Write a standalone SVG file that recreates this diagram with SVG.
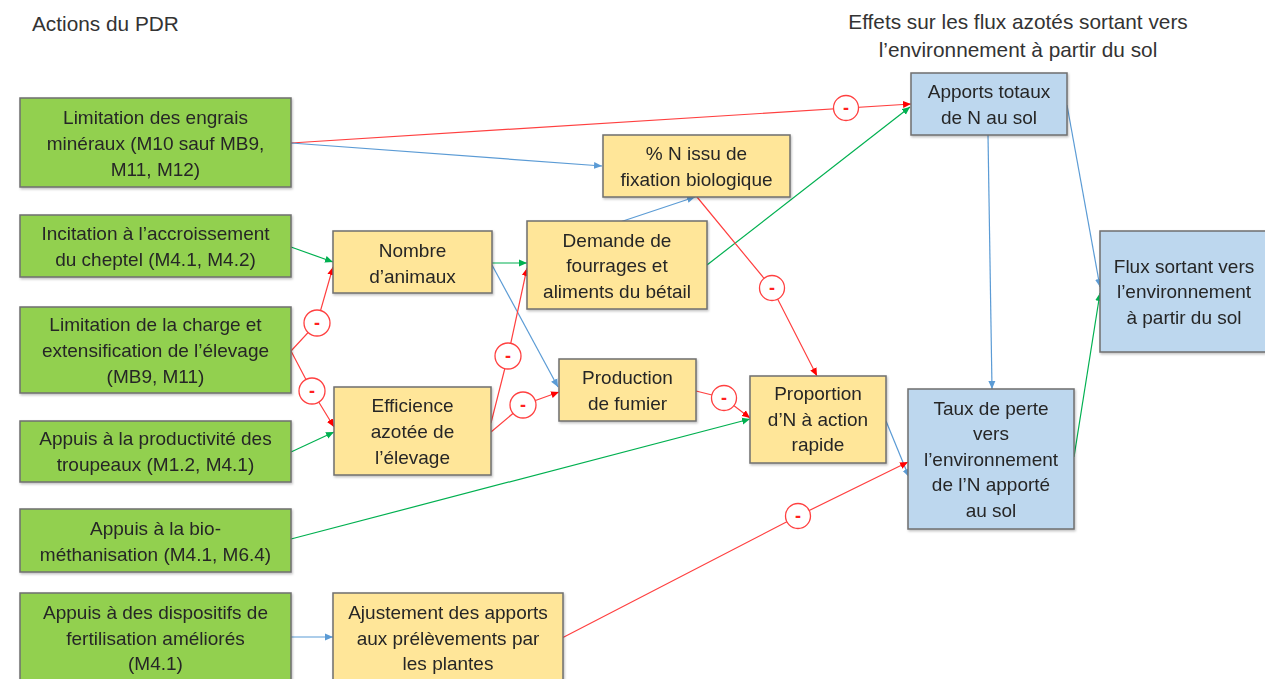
<svg xmlns="http://www.w3.org/2000/svg" width="1265" height="679" viewBox="0 0 1265 679">
<defs>
<style>
.t{font-family:"Liberation Sans",Arial,sans-serif;font-size:19px;fill:#262626;text-anchor:middle}
.title{font-family:"Liberation Sans",Arial,sans-serif;font-size:20.8px;fill:#333;}
.g{fill:#92d050;stroke:#6f6f6f;stroke-width:1.5}
.y{fill:#ffe699;stroke:#6f6f6f;stroke-width:1.5}
.b{fill:#bdd7ee;stroke:#6f6f6f;stroke-width:1.5}
.r{stroke:#ff4040;stroke-width:1.2;fill:none}
.bl{stroke:#5b9bd5;stroke-width:1.2;fill:none}
.gr{stroke:#00b050;stroke-width:1.2;fill:none}
.c{fill:#fff;stroke:#ff4040;stroke-width:1.3}
.m{font-family:"Liberation Sans",Arial,sans-serif;font-size:18px;font-weight:bold;fill:#ff2020;text-anchor:middle}
</style>
<marker id="aR" markerUnits="userSpaceOnUse" markerWidth="8" markerHeight="8" viewBox="0 0 8 8" refX="8" refY="4" orient="auto"><path d="M0,0.5 L8,4 L0,7.5 z" fill="#ff0000"/></marker>
<marker id="aB" markerUnits="userSpaceOnUse" markerWidth="8" markerHeight="8" viewBox="0 0 8 8" refX="8" refY="4" orient="auto"><path d="M0,0.5 L8,4 L0,7.5 z" fill="#5b9bd5"/></marker>
<marker id="aG" markerUnits="userSpaceOnUse" markerWidth="8" markerHeight="8" viewBox="0 0 8 8" refX="8" refY="4" orient="auto"><path d="M0,0.5 L8,4 L0,7.5 z" fill="#00b050"/></marker>
<filter id="sh" x="-5%" y="-5%" width="110%" height="115%"><feDropShadow dx="1" dy="1.5" stdDeviation="1" flood-color="#000" flood-opacity="0.25"/></filter>
</defs>
<rect width="1265" height="679" fill="#fff"/>

<text class="title" x="32" y="31">Actions du PDR</text>
<text class="title" x="1018" y="29" text-anchor="middle">Effets sur les flux azotés sortant vers</text>
<text class="title" x="1018" y="57" text-anchor="middle">l’environnement à partir du sol</text>

<g id="connectors">
<polyline class="r" points="291,143 911,104" marker-end="url(#aR)"/>
<polyline class="bl" points="291,143 602,166" marker-end="url(#aB)"/>
<polyline class="gr" points="291,247 333,262" marker-end="url(#aG)"/>
<polyline class="r" points="291,351 317,323 333,267" marker-end="url(#aR)"/>
<polyline class="r" points="291,351 312,391 334,427" marker-end="url(#aR)"/>
<polyline class="gr" points="291,452 334,432" marker-end="url(#aG)"/>
<polyline class="gr" points="492,263 527,263" marker-end="url(#aG)"/>
<polyline class="bl" points="492,265 558,387" marker-end="url(#aB)"/>
<polyline class="r" points="491,423 508,356 527,268" marker-end="url(#aR)"/>
<polyline class="r" points="491,432 523,405 559,392" marker-end="url(#aR)"/>
<polyline class="bl" points="620,222 695,197" marker-end="url(#aB)"/>
<polyline class="gr" points="707,265 910,107" marker-end="url(#aG)"/>
<polyline class="r" points="697,197 772,288 817,376" marker-end="url(#aR)"/>
<polyline class="r" points="696,391 724,398 750,418" marker-end="url(#aR)"/>
<polyline class="gr" points="291,539 750,419" marker-end="url(#aG)"/>
<polyline class="bl" points="886,421 909,477" marker-end="url(#aB)"/>
<polyline class="r" points="562,638 798,516 908,462" marker-end="url(#aR)"/>
<polyline class="bl" points="988,135 992,389" marker-end="url(#aB)"/>
<polyline class="bl" points="1067,105 1100,287" marker-end="url(#aB)"/>
<polyline class="gr" points="1074,457 1100,293" marker-end="url(#aG)"/>
<polyline class="bl" points="291,637 333,637" marker-end="url(#aB)"/>
<g id="minus-labels">
<circle class="c" cx="846" cy="108" r="12.5"/><text class="m" x="846" y="114">-</text>
<circle class="c" cx="317" cy="323" r="13"/><text class="m" x="317" y="329">-</text>
<circle class="c" cx="312" cy="391" r="13"/><text class="m" x="312" y="397">-</text>
<circle class="c" cx="508" cy="356" r="13"/><text class="m" x="508" y="362">-</text>
<circle class="c" cx="523" cy="405" r="13"/><text class="m" x="523" y="411">-</text>
<circle class="c" cx="772" cy="288" r="12.5"/><text class="m" x="772" y="294">-</text>
<circle class="c" cx="724" cy="398" r="12.5"/><text class="m" x="724" y="404">-</text>
<circle class="c" cx="798" cy="516" r="12.5"/><text class="m" x="798" y="522">-</text>
</g>
</g>

<g id="n-limitation-engrais" filter="url(#sh)"><rect class="g" x="20" y="98" width="271" height="89"/>
<text class="t" x="155.5" y="124">Limitation des engrais</text><text class="t" x="155.5" y="150">minéraux (M10 sauf MB9,</text><text class="t" x="155.5" y="176">M11, M12)</text></g>

<g id="n-incitation" filter="url(#sh)"><rect class="g" x="20" y="215" width="271" height="62"/>
<text class="t" x="155.5" y="240">Incitation à l’accroissement</text><text class="t" x="155.5" y="266">du cheptel (M4.1, M4.2)</text></g>

<g id="n-limitation-charge" filter="url(#sh)"><rect class="g" x="20" y="307" width="271" height="86"/>
<text class="t" x="155.5" y="331">Limitation de la charge et</text><text class="t" x="155.5" y="357">extensification de l’élevage</text><text class="t" x="155.5" y="383">(MB9, M11)</text></g>

<g id="n-productivite" filter="url(#sh)"><rect class="g" x="20" y="421" width="271" height="61"/>
<text class="t" x="155.5" y="445">Appuis à la productivité des</text><text class="t" x="155.5" y="471">troupeaux (M1.2, M4.1)</text></g>

<g id="n-biomethanisation" filter="url(#sh)"><rect class="g" x="20" y="509" width="271" height="63"/>
<text class="t" x="155.5" y="535">Appuis à la bio-</text><text class="t" x="155.5" y="561">méthanisation (M4.1, M6.4)</text></g>

<g id="n-dispositifs" filter="url(#sh)"><rect class="g" x="20" y="593" width="271" height="90"/>
<text class="t" x="155.5" y="619">Appuis à des dispositifs de</text><text class="t" x="155.5" y="645">fertilisation améliorés</text><text class="t" x="155.5" y="670">(M4.1)</text></g>

<g id="n-nombre" filter="url(#sh)"><rect class="y" x="333" y="231" width="159" height="62"/>
<text class="t" x="412.5" y="257">Nombre</text><text class="t" x="412.5" y="283">d’animaux</text></g>

<g id="n-efficience" filter="url(#sh)"><rect class="y" x="334" y="387" width="157" height="88"/>
<text class="t" x="412.5" y="412">Efficience</text><text class="t" x="412.5" y="438">azotée de</text><text class="t" x="412.5" y="464">l’élevage</text></g>

<g id="n-demande" filter="url(#sh)"><rect class="y" x="527" y="221" width="180" height="88"/>
<text class="t" x="617" y="247">Demande de</text><text class="t" x="617" y="272">fourrages et</text><text class="t" x="617" y="298">aliments du bétail</text></g>

<g id="n-fixation" filter="url(#sh)"><rect class="y" x="603" y="135" width="187" height="62"/>
<text class="t" x="696.5" y="160">% N issu de</text><text class="t" x="696.5" y="186">fixation biologique</text></g>

<g id="n-fumier" filter="url(#sh)"><rect class="y" x="559" y="359" width="137" height="62"/>
<text class="t" x="627.5" y="384">Production</text><text class="t" x="627.5" y="410">de fumier</text></g>

<g id="n-proportion" filter="url(#sh)"><rect class="y" x="750" y="376" width="136" height="87"/>
<text class="t" x="818" y="400">Proportion</text><text class="t" x="818" y="426">d’N à action</text><text class="t" x="818" y="451">rapide</text></g>

<g id="n-ajustement" filter="url(#sh)"><rect class="y" x="333" y="593" width="230" height="90"/>
<text class="t" x="448" y="619">Ajustement des apports</text><text class="t" x="448" y="645">aux prélèvements par</text><text class="t" x="448" y="670">les plantes</text></g>

<g id="n-apports" filter="url(#sh)"><rect class="b" x="911" y="73" width="156" height="62"/>
<text class="t" x="989" y="98">Apports totaux</text><text class="t" x="989" y="124">de N au sol</text></g>

<g id="n-taux" filter="url(#sh)"><rect class="b" x="908" y="389" width="166" height="140"/>
<text class="t" x="991" y="415">Taux de perte</text><text class="t" x="991" y="440">vers</text><text class="t" x="991" y="466">l’environnement</text><text class="t" x="991" y="491">de l’N apporté</text><text class="t" x="991" y="517">au sol</text></g>

<g id="n-flux" filter="url(#sh)"><rect class="b" x="1100" y="231" width="168" height="121"/>
<text class="t" x="1184" y="273">Flux sortant vers</text><text class="t" x="1184" y="298">l’environnement</text><text class="t" x="1184" y="324">à partir du sol</text></g>
</svg>
